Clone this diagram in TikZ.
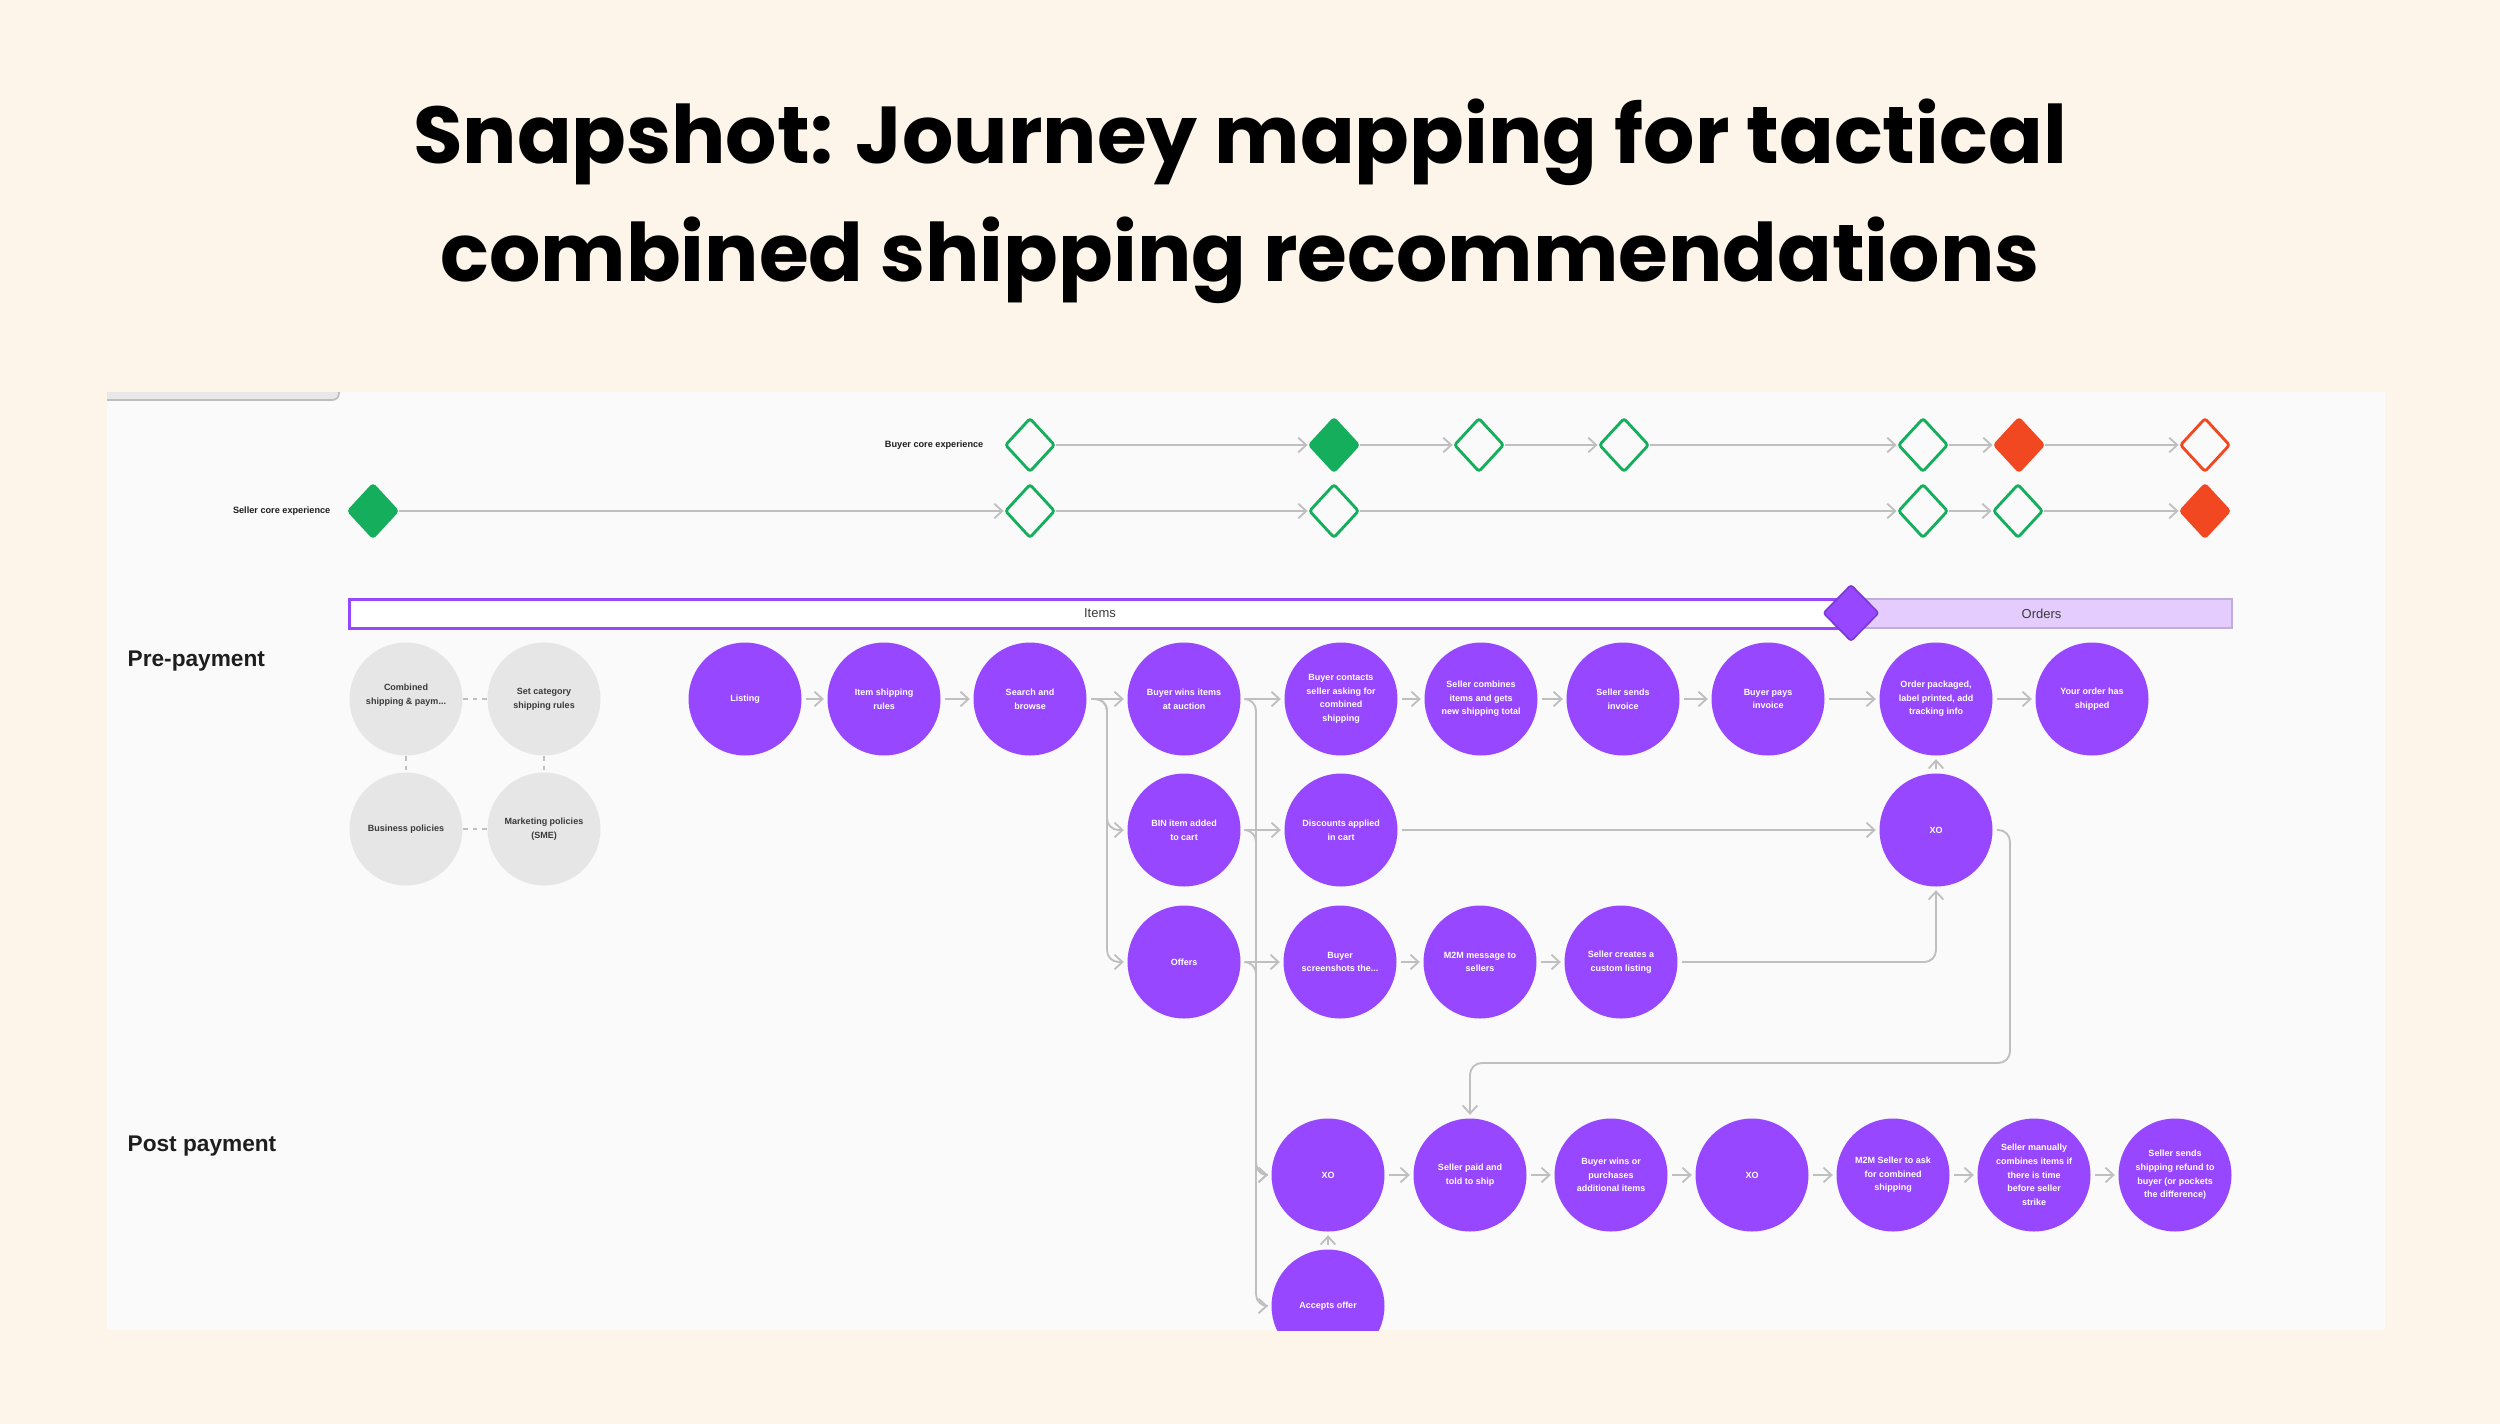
\documentclass[tikz,border=0pt]{standalone}
\usepackage{fontspec}
\setmainfont{Liberation Sans}
\newfontfamily\titlefont{Poppins}
\usetikzlibrary{shapes.geometric,arrows.meta}
\definecolor{bg}{HTML}{FDF5EA}
\definecolor{panel}{HTML}{FAFAFA}
\definecolor{tabgray}{HTML}{E8E8E8}
\definecolor{tabedge}{HTML}{BDBDBD}
\definecolor{fpurple}{HTML}{9747FF}
\definecolor{dpurple}{HTML}{7B3AD6}
\definecolor{ordfill}{HTML}{E4CCFF}
\definecolor{ordedge}{HTML}{BFAEDB}
\definecolor{ggray}{HTML}{E6E6E6}
\definecolor{gtext}{HTML}{3A3A3A}
\definecolor{lgray}{HTML}{BFBFBF}
\definecolor{fgreen}{HTML}{14AE5C}
\definecolor{fred}{HTML}{F24822}
\definecolor{ink}{HTML}{1E1E1E}
\begin{document}
\begin{tikzpicture}[x=0.3pt,y=-0.3pt,
  pnode/.style={circle, fill=fpurple, text=white, minimum size=33.9pt, inner sep=0pt, align=center, font=\fontsize{2.7}{4.1}\selectfont\bfseries},
  gnode/.style={circle, fill=ggray, text=gtext, minimum size=33.9pt, inner sep=0pt, align=center, font=\fontsize{2.7}{4.1}\selectfont\bfseries},
  conn/.style={draw=lgray, line width=0.55pt, -{Straight Barb[length=2.4pt,width=4.4pt,line width=0.55pt]}, shorten <=1.2pt, shorten >=0.9pt, rounded corners=3.5pt},
  dconn/.style={draw=lgray, line width=0.6pt, -{Straight Barb[length=2.4pt,width=4.4pt,line width=0.55pt]}},
  gdash/.style={draw=lgray, line width=0.5pt, dash pattern=on 1.4pt off 1.4pt},
  dmd/.style={diamond, minimum width=15pt, minimum height=16.2pt, inner sep=0pt, line width=0.85pt, rounded corners=0.8pt},
  dgo/.style={dmd, draw=fgreen, fill=panel},
  dgf/.style={dmd, draw=fgreen, fill=fgreen},
  dro/.style={dmd, draw=fred, fill=panel},
  drf/.style={dmd, draw=fred, fill=fred},
  rowlabel/.style={anchor=east, inner sep=0pt, text=ink, font=\fontsize{2.75}{3.3}\selectfont\bfseries},
  seclabel/.style={anchor=west, inner sep=0pt, text=ink, font=\fontsize{6.8}{8}\selectfont\bfseries},
  titletext/.style={anchor=base, inner sep=0pt, text=black, font=\titlefont\bfseries\fontsize{24.2}{33}\selectfont}
  ]
\fill[bg] (0,0) rectangle (2500,1424);
\useasboundingbox (0,0) rectangle (2500,1424);

% title
\node[titletext] (title1) at (1240,163) {Snapshot: Journey mapping for tactical};
\node[titletext] (title2) at (1240,281) {combined shipping recommendations};

\begin{scope}
\clip (107,392) rectangle (2385,1330);
\fill[panel] (107,392) rectangle (2385,1330);
\filldraw[fill=tabgray, draw=tabedge, line width=0.5pt, rounded corners=2pt] (90,370) rectangle (339,400);

% experience rows
\node[rowlabel] (buyerlab) at (984,445) {Buyer core experience};
\node[rowlabel] (sellerlab) at (331,511) {Seller core experience};

\node[dgo] (b1) at (1030,445) {};
\node[dgf] (b2) at (1334,445) {};
\node[dgo] (b3) at (1479,445) {};
\node[dgo] (b4) at (1624,445) {};
\node[dgo] (b5) at (1923,445) {};
\node[drf] (b6) at (2019,445) {};
\node[dro] (b7) at (2205,445) {};

\node[dgf] (s1) at (373,511) {};
\node[dgo] (s2) at (1030,511) {};
\node[dgo] (s3) at (1334,511) {};
\node[dgo] (s4) at (1923,511) {};
\node[dgo] (s5) at (2018,511) {};
\node[drf] (s6) at (2205,511) {};

\draw[dconn] (b1) -- (b2);
\draw[dconn] (b2) -- (b3);
\draw[dconn] (b3) -- (b4);
\draw[dconn] (b4) -- (b5);
\draw[dconn] (b5) -- (b6);
\draw[dconn] (b6) -- (b7);
\draw[dconn] (s1) -- (s2);
\draw[dconn] (s2) -- (s3);
\draw[dconn] (s3) -- (s4);
\draw[dconn] (s4) -- (s5);
\draw[dconn] (s5) -- (s6);

% phase bars
\node[draw=ordedge, fill=ordfill, line width=0.6pt, minimum width=114.3pt, minimum height=8.7pt, inner sep=0pt, text=gtext, font=\fontsize{3.9}{4.5}\selectfont] (orders) at (2041.5,613.5) {Orders};
\node[draw=fpurple, fill=white, line width=0.9pt, minimum width=450.6pt, minimum height=8.7pt, inner sep=0pt, text=gtext, font=\fontsize{3.9}{4.5}\selectfont] (items) at (1100,613.5) {Items};
\node[diamond, fill=fpurple, draw=dpurple, line width=0.5pt, minimum width=16.8pt, minimum height=17.1pt, inner sep=0pt, rounded corners=0.8pt] (split) at (1851,613) {};

% section labels
\node[seclabel] (pre) at (127,661) {Pre-payment};
\node[seclabel] (post) at (127,1146) {Post payment};

% gray policy circles
\node[gnode] (g1) at (406,699) {Combined\\shipping \& paym...\\[-1.2pt]};
\node[gnode] (g2) at (544,699) {Set category\\shipping rules};
\node[gnode] (g3) at (406,829) {Business policies};
\node[gnode] (g4) at (544,829) {Marketing policies\\(SME)};
\draw[gdash] (g1) -- (g2);
\draw[gdash] (g3) -- (g4);
\draw[gdash] (g1) -- (g3);
\draw[gdash] (g2) -- (g4);

% pre-payment flow, top row
\node[pnode] (listing) at (745,699) {Listing};
\node[pnode] (itemship) at (884,699) {Item shipping\\rules};
\node[pnode] (search) at (1030,699) {Search and\\browse};
\node[pnode] (bwins) at (1184,699) {Buyer wins items\\at auction};
\node[pnode] (bcontact) at (1341,699) {Buyer contacts\\seller asking for\\combined\\shipping};
\node[pnode] (scombine) at (1481,699) {Seller combines\\items and gets\\new shipping total};
\node[pnode] (ssend) at (1623,699) {Seller sends\\invoice};
\node[pnode] (bpays) at (1768,699) {Buyer pays\\invoice};
\node[pnode] (order) at (1936,699) {Order packaged,\\label printed, add\\tracking info};
\node[pnode] (shipped) at (2092,699) {Your order has\\shipped};

% second row
\node[pnode] (bin) at (1184,830) {BIN item added\\to cart};
\node[pnode] (disc) at (1341,830) {Discounts applied\\in cart};
\node[pnode] (xoa) at (1936,830) {XO};

% third row
\node[pnode] (offers) at (1184,962) {Offers};
\node[pnode] (shots) at (1340,962) {Buyer\\screenshots the...};
\node[pnode] (m2m) at (1480,962) {M2M message to\\sellers};
\node[pnode] (custom) at (1621,962) {Seller creates a\\custom listing};

% post payment row
\node[pnode] (xob) at (1328,1175) {XO};
\node[pnode] (paid) at (1470,1175) {Seller paid and\\told to ship};
\node[pnode] (bwins2) at (1611,1175) {Buyer wins or\\purchases\\additional items};
\node[pnode] (xoc) at (1752,1175) {XO};
\node[pnode] (m2m2) at (1893,1175) {M2M Seller to ask\\for combined\\shipping};
\node[pnode] (manual) at (2034,1175) {Seller manually\\combines items if\\there is time\\before seller\\strike};
\node[pnode] (refund) at (2175,1175) {Seller sends\\shipping refund to\\buyer (or pockets\\the difference)};
\node[pnode] (accepts) at (1328,1306) {Accepts offer};
\end{scope}

% lanes
\coordinate (laneA) at (1107,0);
\coordinate (laneB) at (1256,0);
\coordinate (bend) at (2010,1063);

% connectors
\draw[conn] (listing) -- (itemship);
\draw[conn] (itemship) -- (search);
\draw[conn] (search) -- (bwins);
\draw[conn] (bwins) -- (bcontact);
\draw[conn] (bcontact) -- (scombine);
\draw[conn] (scombine) -- (ssend);
\draw[conn] (ssend) -- (bpays);
\draw[conn] (bpays) -- (order);
\draw[conn] (order) -- (shipped);
\draw[conn] (search.east) -- (search.east -| laneA) |- (bin.west);
\draw[conn] (search.east) -- (search.east -| laneA) |- (offers.west);
\draw[conn] (bwins.east) -- (bwins.east -| laneB) |- (xob.west);
\draw[conn] (bin.east) -- (bin.east -| laneB) |- (xob.west);
\draw[conn] (offers.east) -- (offers.east -| laneB) |- (accepts.west);
\draw[conn] (bin) -- (disc);
\draw[conn] (disc) -- (xoa);
\draw[conn] (offers) -- (shots);
\draw[conn] (shots) -- (m2m);
\draw[conn] (m2m) -- (custom);
\draw[conn] (custom.east) -| (xoa.south);
\draw[conn] (xoa) -- (order);
\draw[conn] (xoa.east) -| (bend) -| (paid.north);
\draw[conn] (accepts) -- (xob);
\draw[conn] (xob) -- (paid);
\draw[conn] (paid) -- (bwins2);
\draw[conn] (bwins2) -- (xoc);
\draw[conn] (xoc) -- (m2m2);
\draw[conn] (m2m2) -- (manual);
\draw[conn] (manual) -- (refund);
\end{tikzpicture}
\end{document}
